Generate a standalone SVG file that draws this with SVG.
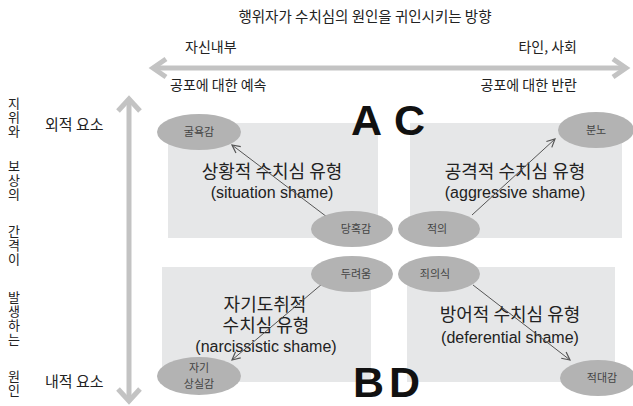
<svg xmlns="http://www.w3.org/2000/svg" width="633" height="406" viewBox="0 0 633 406">
<defs>
<style>
text{font-family:"Noto Sans CJK KR","Liberation Sans",sans-serif;fill:#222}
.ko{font-size:14px}
.box{fill:#e6e7e8}
.ell{fill:#b3b3b3}
.et{font-size:11px;fill:#444;text-anchor:middle}
.t1{font-size:18px;text-anchor:middle}
.t2{font-family:"Liberation Sans",Arial,sans-serif;font-size:16px;text-anchor:middle}
.big{font-family:"Liberation Sans",Arial,sans-serif;font-size:43px;font-weight:bold;fill:#111}
.axis{stroke:#c3c3c3;stroke-width:5;fill:none}
.conn{stroke:#555;stroke-width:1;fill:none;marker-end:url(#ah)}
.col{font-size:13px;letter-spacing:1px;writing-mode:vertical-rl;text-orientation:upright}
</style>
<marker id="ah" viewBox="0 0 10 10" refX="9" refY="5" markerWidth="10" markerHeight="10" markerUnits="userSpaceOnUse" orient="auto">
<path d="M1,1 L9,5 L1,9" fill="none" stroke="#555" stroke-width="1.2"/>
</marker>
</defs>
<rect width="633" height="406" fill="#fff"/>

<g id="title">
<text x="365" y="22" text-anchor="middle" style="font-size:14.5px">행위자가 수치심의 원인을 귀인시키는 방향</text>
</g>

<g id="axes">
<line class="axis" x1="153" y1="68" x2="626" y2="68"/>
<polyline class="axis" points="166,59 153,68 166,77"/>
<polyline class="axis" points="613,59 626,68 613,77"/>
<line class="axis" x1="129" y1="99" x2="129" y2="401"/>
<polyline class="axis" points="118,111 129,99 140,111"/>
<polyline class="axis" points="118,389 129,401 140,389"/>
</g>

<g id="axis-labels">
<text class="ko" x="185" y="52">자신내부</text>
<text class="ko" x="577" y="52" text-anchor="end">타인, 사회</text>
<text class="ko" x="170" y="90">공포에 대한 예속</text>
<text class="ko" x="577" y="90" text-anchor="end">공포에 대한 반란</text>
<text x="45" y="130" style="font-size:15px">외적 요소</text>
<text x="45" y="387" style="font-size:15px">내적 요소</text>
</g>

<g id="side-label">
<text class="col" x="14" y="97">지위와</text>
<text class="col" x="14" y="160">보상의</text>
<text class="col" x="14" y="225">간격이</text>
<text class="col" x="14" y="291">발생하는</text>
<text class="col" x="14" y="370">원인</text>
</g>

<g id="box-A">
<rect class="box" x="168" y="123" width="210" height="115"/>
<text class="t1" x="272" y="178">상황적 수치심 유형</text>
<text class="t2" x="272" y="198">(situation shame)</text>
</g>
<g id="box-C">
<rect class="box" x="410" y="123" width="212" height="115"/>
<text class="t1" x="515" y="178">공격적 수치심 유형</text>
<text class="t2" x="515" y="198">(aggressive shame)</text>
</g>
<g id="box-B">
<rect class="box" x="162" y="267" width="209" height="115"/>
<text class="t1" x="265" y="311">자기도취적<tspan x="266" dy="21">수치심 유형</tspan></text>
<text class="t2" x="266" y="352">(narcissistic shame)</text>
</g>
<g id="box-D">
<rect class="box" x="407" y="267" width="208" height="115"/>
<text class="t1" x="510" y="321">방어적 수치심 유형</text>
<text class="t2" x="510" y="343">(deferential shame)</text>
</g>

<g id="letters">
<text class="big" x="351" y="135">A</text>
<text class="big" x="394" y="135">C</text>
<text class="big" x="353" y="397">B</text>
<text class="big" x="389" y="397">D</text>
</g>

<g id="connectors">
<line class="conn" x1="327" y1="217" x2="232" y2="145"/>
<line class="conn" x1="472" y1="215" x2="555" y2="139"/>
<line class="conn" x1="322" y1="284" x2="232" y2="360"/>
<line class="conn" x1="473" y1="285" x2="570" y2="360"/>
</g>

<g id="n-gulyok"><ellipse class="ell" cx="199" cy="132" rx="42" ry="18"/><text class="et" x="199" y="136">굴욕감</text></g>
<g id="n-danghok"><ellipse class="ell" cx="352" cy="229" rx="41" ry="18"/><text class="et" x="356" y="233">당혹감</text></g>
<g id="n-jeogui"><ellipse class="ell" cx="439" cy="229" rx="41" ry="18"/><text class="et" x="437" y="233">적의</text></g>
<g id="n-bunno"><ellipse class="ell" cx="596" cy="130" rx="38" ry="18"/><text class="et" x="596" y="134">분노</text></g>
<g id="n-duryeoum"><ellipse class="ell" cx="352" cy="274" rx="41" ry="18"/><text class="et" x="356" y="278">두려움</text></g>
<g id="n-joeuisik"><ellipse class="ell" cx="439" cy="274" rx="41" ry="18"/><text class="et" x="435" y="278">죄의식</text></g>
<g id="n-sangsil"><ellipse class="ell" cx="199" cy="376" rx="42" ry="19"/><text class="et" x="199" y="372">자기<tspan x="199" dy="16">상실감</tspan></text></g>
<g id="n-jeokdae"><ellipse class="ell" cx="598" cy="378" rx="38" ry="18"/><text class="et" x="602" y="382">적대감</text></g>
</svg>
